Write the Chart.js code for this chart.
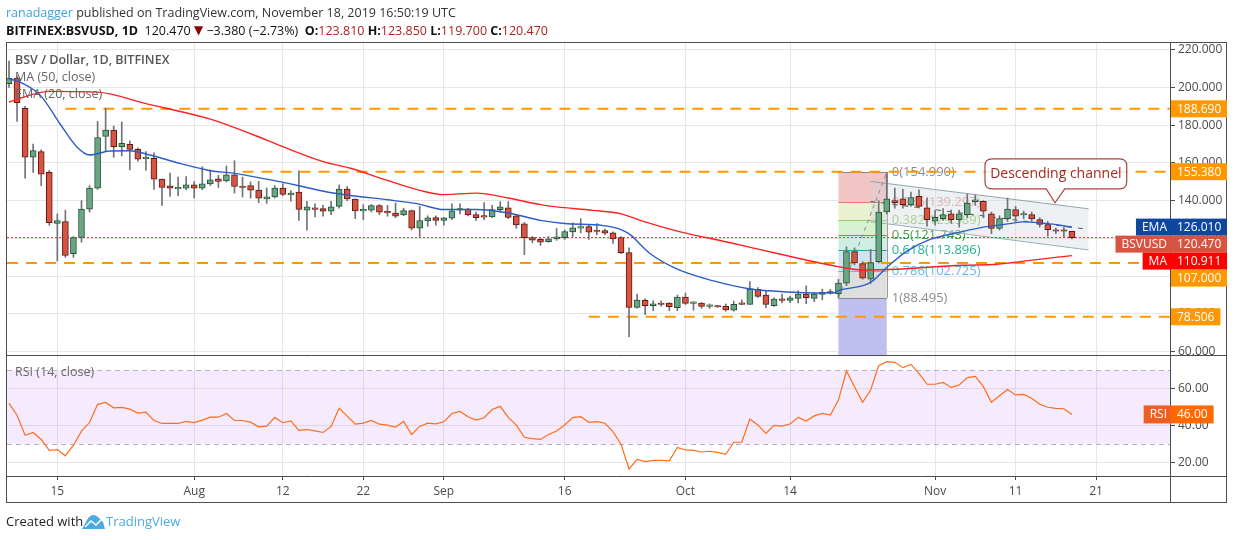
<!DOCTYPE html>
<html>
<head>
<meta charset="utf-8">
<script src="https://cdn.jsdelivr.net/npm/chart.js@4.4.1/dist/chart.umd.min.js"></script>
<style>
  html, body { margin: 0; padding: 0; background: #fff; }
  canvas { display: block; }
</style>
</head>
<body>
<canvas id="chart" width="1234" height="540"></canvas>
<script>
// Daily candles, BSV / USD (Bitfinex), 9 Jul 2019 -> 18 Nov 2019 (index 0 = 9 Jul)
const opens = [
  202, 205, 189, 163, 166, 155, 128, 129, 112, 120.5, 135.5, 146.7, 174, 177.4, 168.6, 169.8, 167.2, 162.3, 162.5, 151.4,
  147.9, 146.3, 146.7, 148.4, 146.7, 148.9, 151.6, 150.5, 153.7, 147.4, 148, 145.6, 141, 142, 146.7, 143, 144.6, 135, 136.2, 135.8,
  134.4, 137, 146.2, 140.9, 134.6, 135, 137.4, 134.4, 133.5, 132.5, 134.7, 125.5, 129.3, 131, 129.6, 130.7, 135, 135.6, 132.6, 131.5,
  131.4, 135.3, 136.2, 132, 127.7, 120.5, 119.5, 118.3, 119.8, 120.4, 123.5, 125.5, 126.3, 124.4, 124.2, 123, 120.5, 112.5, 83.5, 87.2,
  84.4, 85.8, 85.8, 83.3, 88.9, 85.6, 85.8, 84, 84.2, 84, 82, 85.8, 85.1, 93, 90, 84.4, 87.9, 87.2, 88.2, 90.5,
  88.2, 90.4, 91.6, 90.7, 96.3, 113, 106.7, 98.4, 107.7, 134, 140, 141, 137.9, 142.3, 136.2, 129.1, 130.5, 133, 130, 132.6,
  139.5, 139.7, 133, 125.3, 130.5, 135.3, 132.4, 132.6, 130, 127.4, 124.6, 123.9, 123.81
];
const highs = [
  214, 206, 190, 170, 167, 156, 133, 135, 121, 140, 148, 182, 189, 179.5, 181.7, 171.7, 168, 166, 165.4, 151.5,
  154.6, 152.5, 152.8, 150.2, 158, 156.3, 153.4, 158.4, 161.2, 152.5, 150, 150.2, 146.7, 148, 149, 145.3, 155.8, 139.7, 138.4, 137.6,
  139.7, 148.4, 147.5, 141, 137.9, 138, 138, 137.5, 138.8, 136, 135, 137, 132, 132, 131, 138.3, 138.3, 136, 134, 139,
  137.5, 139.5, 139.5, 132.5, 128.5, 121, 120, 121, 125.3, 124.5, 128.3, 130.5, 127, 127.9, 125, 123.5, 121, 115, 90.5, 88,
  87, 87, 86, 90, 91, 86.5, 86, 85.3, 84.5, 85.3, 86.8, 87.5, 97.2, 94, 92.3, 88.5, 90.5, 89.5, 92.3, 94.9,
  91.5, 93.2, 93, 98.4, 115.6, 115, 107.7, 114.2, 140, 155, 146.7, 146, 144.6, 145.8, 141.4, 135, 135.8, 135, 135, 143.5,
  143, 140, 134, 132, 141.4, 137, 134.5, 134, 131, 129, 125.5, 126, 123.85
];
const lows = [
  200, 182, 152, 155, 148, 127, 108, 110, 110, 118, 134, 146, 166, 163, 163.7, 156.3, 161, 156, 146, 137.5,
  142.3, 142.6, 145.8, 141.4, 145.8, 148, 147, 150, 144, 142, 141.4, 139, 138.6, 141.4, 142.6, 139.7, 129.6, 124.4, 131.4, 131.8,
  132.6, 136, 140, 130.5, 130, 134, 132.6, 131.8, 131, 132, 124.5, 121, 126.5, 127, 127, 130, 133, 132, 129.6, 130,
  131, 134, 130.5, 125.4, 111.4, 117.7, 116.3, 118, 119, 119.5, 121, 123, 119.5, 122, 122, 117.4, 112, 68, 83, 79.6,
  81.7, 84, 81.7, 81.7, 85, 82, 83, 83, 83.5, 81.4, 81.5, 85, 85, 88.8, 83.3, 84, 85.8, 86, 85.8, 85.4,
  86.5, 87.5, 90.5, 88.495, 95, 106, 98.4, 96.2, 107, 133, 136, 136, 137, 136.2, 126.5, 127, 129.5, 128, 126, 131,
  137.5, 131, 122.5, 124.5, 129, 129, 130.5, 129, 126, 121.2, 122.5, 121, 119.7
];
const closes = [
  205, 192, 163, 166.5, 154, 128.3, 129.5, 111, 120.5, 135.6, 146.7, 173.5, 177.4, 168.6, 170.4, 167.2, 162, 163, 151.4, 147,
  146.7, 147, 148.4, 146.7, 148.9, 151, 150.2, 153.7, 147.5, 147, 145.6, 141.4, 142, 146.7, 143.3, 144, 135.4, 136.7, 135.4, 134.4,
  136.7, 146.2, 140.9, 134.6, 135.3, 137.4, 133.9, 133.5, 131.8, 134.7, 125.4, 129.5, 130.9, 129.6, 130.9, 134.6, 135.6, 132.5, 131, 131.3,
  135.3, 136.7, 131.2, 127.2, 120.4, 119.1, 118, 119.8, 120.9, 123.7, 125.6, 126.3, 123.3, 123.7, 122.8, 119.8, 112.5, 83.5, 87.4, 84.4,
  85.3, 85, 83.8, 88.9, 85.6, 86.2, 84, 84.4, 83.7, 82.1, 85.1, 85.1, 93.2, 89.3, 85.1, 87.9, 87.2, 88.6, 90.5, 88.6,
  90.5, 91.4, 91.1, 96.3, 113, 107, 99, 107.2, 134, 141, 139, 137.9, 141.7, 137, 130, 131.2, 132.6, 130, 133, 138.8,
  140.5, 134.4, 125.3, 130.5, 135.6, 131.8, 132.8, 130.4, 127.4, 124.7, 123.8, 123.81, 120.47
];

// RSI (14, close), one value per candle
const rsiValues = [
  52, 45.6, 34.7, 36.2, 32.4, 26.5, 26.9, 23.5, 29.3, 36.9, 41.6, 51.5, 52.5, 49.6, 49.8, 48.9, 46.7, 47.3, 42.7, 41.1,
  41.1, 41.1, 42.2, 41.6, 42.9, 44.5, 44.5, 46.5, 42.7, 42.7, 41.8, 39.3, 39.6, 44.4, 41.5, 42.5, 37.3, 37.8, 37.1, 36.2,
  39.5, 49.3, 45.1, 40.7, 41.3, 42.7, 40.7, 40.2, 39.1, 42.2, 35.1, 39.5, 41.3, 40.9, 42, 46.5, 47.6, 44.7, 42.9, 44.2,
  48.7, 50.4, 44.4, 40.2, 33.6, 32.9, 32.4, 35.1, 37, 40.3, 44.3, 44.8, 41.7, 42.1, 41.2, 36.7, 29.8, 16.4, 21.6, 20.4,
  21, 21, 20.8, 28.1, 26.7, 26.5, 25.6, 26, 25.4, 24.3, 30.9, 31, 43.5, 40.3, 35.7, 40.1, 39.7, 40.8, 44.4, 42.4,
  45.2, 46.6, 45.7, 53.8, 69.6, 61.1, 52.6, 59.3, 72.5, 74.7, 74.3, 71.4, 73.2, 68.3, 62.4, 62.4, 63.4, 60.7, 62, 66,
  66.7, 61.1, 52.6, 56.2, 59.6, 56.6, 56.9, 54.8, 51.5, 49.9, 49.3, 49.1, 46
];

// EMA (20) and MA (50) as [day, value]
const emaPoints = [
  [0, 204.6], [1.4, 202.8], [3.9, 195.8], [6.3, 180.9], [8.4, 168.6], [10, 164.2], [12.5, 166.3], [15, 166.5],
  [17.5, 164.2], [21.2, 159.8], [25, 155.9], [27.8, 154.6], [32, 151.4], [36, 147.9], [39.5, 144.6], [42.7, 142.6],
  [47, 140.5], [50.8, 138.3], [54, 135.3], [58, 135.3], [62, 133.5], [66, 129.6], [69, 127.9], [73.8, 126.8],
  [76, 124.7], [77.3, 121.5], [78.4, 116.8], [79.6, 112], [83, 103.7], [87.5, 97.5], [91.7, 93.5], [97.9, 91.4],
  [102.4, 91.1], [103, 92.3], [107, 96.7], [109, 104.6], [111.5, 113.3], [114.4, 119.5], [117.8, 123], [121, 126],
  [124, 127.7], [126, 128.8], [129.3, 127.7], [132, 126.01]
];
const maPoints = [
  [0, 192.3], [5, 197.9], [11, 197.5], [17, 191.4], [25, 183.2], [32, 172.1], [34, 168.6], [39, 160.7],
  [42.4, 157.2], [46.5, 151.4], [51, 145.5], [54, 143.2], [58, 144], [62, 141.4], [66, 137.9], [68, 136.7],
  [72.5, 134.9], [76, 133], [78.4, 129.6], [83, 123.9], [89.6, 117.7], [95.8, 111.6], [102.9, 105.1], [106, 103.3],
  [110.3, 103.7], [114.4, 104.9], [118.5, 105.8], [122.7, 106.3], [126.8, 108.4], [132, 110.911]
];

// Axis ticks
const tickDays = [6, 23, 34, 44, 54, 69, 84, 97, 115, 125, 135];
const tickLabels = ['15', 'Aug', '12', '22', 'Sep', '16', 'Oct', '14', 'Nov', '11', '21'];
const priceTicks = [60, 80, 100, 120, 140, 160, 180, 200, 220];
const rsiTicks = [20, 40, 60];

// Drawings: horizontal levels and where they start
const hLevels = [188.69, 155.38, 107.0, 78.506];
const hLevelStart = [7, 29, -0.25, 72];

// Fibonacci retracement between day 103 (low) and day 109 (high)
const fibRatios = ['0', '0.236', '0.382', '0.5', '0.618', '0.786', '1'];
const fibLevels = [154.990, 139.297, 129.589, 121.743, 113.896, 102.725, 88.495];
const fibExtension = 47.40;
const fibDays = [103, 109];

// Descending channel
const channelDays = [107, 134.07];
const channelTop = [150.2, 135.7];
const channelBottom = [128.9, 113.9];
const channelMid = [139.6, 124.8];

const lastPrice = 120.47;
const lastEma = 126.01;
const lastMa = 110.911;
const lastRsi = 46.0;

// ----- styling -----
const FONT = "'Open Sans', 'DejaVu Sans', sans-serif";
Chart.defaults.font.family = FONT;
const upFill = '#6ba583', upLine = '#225437';
const downFill = '#d75442', downLine = '#5b1a13';
const wickColor = '#737375';
const orange = '#ff9800';
const gridColor = '#e6e6e6';
const frameColor = '#4d4d4d';
const xMin = -0.25, xMax = 144.3;

const days = closes.map((c, i) => i);
const isUp = (i) => closes[i] >= opens[i];

const datasets = [
  {
    type: 'line', label: 'EMA', data: emaPoints.map(p => ({ x: p[0], y: p[1] })),
    borderColor: '#2b5cc8', borderWidth: 1.4, pointRadius: 0, cubicInterpolationMode: 'monotone',
    yAxisID: 'y', order: 0
  },
  {
    type: 'line', label: 'MA', data: maPoints.map(p => ({ x: p[0], y: p[1] })),
    borderColor: '#ff2020', borderWidth: 1.4, pointRadius: 0, cubicInterpolationMode: 'monotone',
    yAxisID: 'y', order: 0
  },
  {
    type: 'bar', label: 'body', data: days.map(i => ({ x: i, y: [opens[i], closes[i]] })),
    grouped: false, barThickness: 6, minBarLength: 1.5, borderWidth: 1, borderSkipped: false,
    backgroundColor: c => isUp(c.dataIndex) ? upFill : downFill,
    borderColor: c => isUp(c.dataIndex) ? upLine : downLine,
    yAxisID: 'y', order: 1
  },
  {
    type: 'bar', label: 'wick', data: days.map(i => ({ x: i, y: [lows[i], highs[i]] })),
    grouped: false, barThickness: 1, borderWidth: 0, backgroundColor: wickColor,
    yAxisID: 'y', order: 2
  },
  {
    type: 'line', label: 'last', data: [{ x: xMin, y: lastPrice }, { x: xMax, y: lastPrice }],
    borderColor: '#d93a3a', borderWidth: 1, borderDash: [2, 2], pointRadius: 0, yAxisID: 'y', order: 3
  },
  {
    type: 'line', label: 'channelTop',
    data: channelDays.map((d, i) => ({ x: d, y: channelTop[i] })),
    borderColor: '#8fa6ae', borderWidth: 1, pointRadius: 0, yAxisID: 'y', order: 5,
    fill: '+1', backgroundColor: 'rgba(205, 214, 224, 0.35)'
  },
  {
    type: 'line', label: 'channelBottom',
    data: channelDays.map((d, i) => ({ x: d, y: channelBottom[i] })),
    borderColor: '#8fa6ae', borderWidth: 1, pointRadius: 0, yAxisID: 'y', order: 5
  },
  {
    type: 'line', label: 'channelMid',
    data: channelDays.map((d, i) => ({ x: d, y: channelMid[i] })),
    borderColor: '#555', borderWidth: 1, borderDash: [5, 6], pointRadius: 0, yAxisID: 'y', order: 4
  },
  {
    type: 'line', label: 'fibTrend',
    data: [{ x: fibDays[0], y: fibLevels[6] }, { x: fibDays[1], y: fibLevels[0] }],
    borderColor: '#8a8a8a', borderWidth: 1, borderDash: [4, 4], pointRadius: 0, yAxisID: 'y', order: 4
  },
  {
    type: 'line', label: 'RSI', data: rsiValues.map((v, i) => ({ x: i, y: v })),
    borderColor: '#ff6d1a', borderWidth: 1.2, pointRadius: 0, yAxisID: 'rsi', order: 0
  }
];

hLevels.forEach((lvl, i) => {
  datasets.push({
    type: 'line', label: 'level ' + lvl,
    data: [{ x: hLevelStart[i], y: lvl }, { x: xMax, y: lvl }],
    borderColor: orange, borderWidth: 2, borderDash: [11, 8], pointRadius: 0, yAxisID: 'y', order: 4
  });
});

// Fib zones, RSI band
const fibZoneColors = ['#f3c4c4', '#e9f1d0', '#d4f2cf', '#cdeee3', '#cfe3f1', '#dedede', '#bfbff0'];
const fibLineColors = ['#8a8a8a', '#e57373', '#9ccc65', '#4caf50', '#26a69a', '#64b5f6', '#8a8a8a'];
const fibTextColors = ['#8c8c8c', '#e3a0a0', '#9ccc65', '#43a047', '#26b08f', '#64b5f6', '#8c8c8c'];

const backgroundPlugin = {
  id: 'background',
  beforeDatasetsDraw(chart) {
    const { ctx, scales } = chart;
    const x = scales.x, y = scales.y, r = scales.rsi;
    const x0 = x.getPixelForValue(fibDays[0]), x1 = x.getPixelForValue(fibDays[1]);
    const levels = fibLevels.concat([fibExtension]);
    ctx.save();
    ctx.beginPath();
    ctx.rect(chart.chartArea.left, y.top, chart.chartArea.right - chart.chartArea.left, y.bottom - y.top);
    ctx.clip();
    for (let i = 0; i < levels.length - 1; i++) {
      const ya = y.getPixelForValue(levels[i]), yb = y.getPixelForValue(levels[i + 1]);
      ctx.fillStyle = fibZoneColors[i];
      ctx.fillRect(x0, ya, x1 - x0, yb - ya);
    }
    fibLevels.forEach((lvl, i) => {
      const py = Math.round(y.getPixelForValue(lvl)) + 0.5;
      ctx.strokeStyle = fibLineColors[i];
      ctx.lineWidth = 1;
      ctx.beginPath(); ctx.moveTo(x0, py); ctx.lineTo(x1, py); ctx.stroke();
      ctx.font = '13px ' + FONT;
      ctx.fillStyle = fibTextColors[i];
      ctx.textBaseline = 'middle';
      ctx.textAlign = 'left';
      ctx.fillText(fibRatios[i] + '(' + lvl.toFixed(3) + ')', x1 + 5, py);
    });
    ctx.strokeStyle = '#9a9a9a';
    ctx.beginPath();
    ctx.moveTo(Math.round(x1) + 0.5, y.getPixelForValue(fibLevels[0]));
    ctx.lineTo(Math.round(x1) + 0.5, y.getPixelForValue(fibLevels[6]));
    ctx.stroke();
    ctx.restore();

    // RSI band 70 / 30
    const l = chart.chartArea.left, rr = chart.chartArea.right;
    const y70 = r.getPixelForValue(70), y30 = r.getPixelForValue(30);
    ctx.save();
    ctx.fillStyle = 'rgba(175, 90, 235, 0.12)';
    ctx.fillRect(l, y70, rr - l, y30 - y70);
    ctx.strokeStyle = '#b9aec9';
    ctx.setLineDash([5, 4]);
    ctx.lineWidth = 1;
    [y70, y30].forEach(py => {
      ctx.beginPath(); ctx.moveTo(l, Math.round(py) + 0.5); ctx.lineTo(rr, Math.round(py) + 0.5); ctx.stroke();
    });
    ctx.restore();
  }
};

function drawRuns(ctx, runs, x, y) {
  for (const run of runs) {
    ctx.font = run.font;
    ctx.fillStyle = run.color;
    ctx.fillText(run.text, x, y);
    x += ctx.measureText(run.text).width;
  }
}

function drawBadge(ctx, left, top, h, text, bg, tag, tagBg) {
  ctx.font = '12px ' + FONT;
  const w = ctx.measureText(text).width + 12;
  ctx.fillStyle = bg;
  ctx.fillRect(left, top, Math.min(w, 1227 - left), h);
  ctx.fillStyle = '#fff';
  ctx.textBaseline = 'middle';
  ctx.textAlign = 'left';
  ctx.fillText(text, left + 6, top + h / 2 + 0.5);
  if (tag) {
    const tw = ctx.measureText(tag).width + 10;
    ctx.fillStyle = tagBg;
    ctx.fillRect(left - tw, top, tw, h);
    ctx.fillStyle = '#fff';
    ctx.textAlign = 'right';
    ctx.fillText(tag, left - 4, top + h / 2 + 0.5);
  }
}

const overlayPlugin = {
  id: 'overlay',
  afterDraw(chart) {
    const { ctx, scales, chartArea } = chart;
    const x = scales.x, y = scales.y, r = scales.rsi;
    ctx.save();

    // callout
    const bl = x.getPixelForValue(121.2), br = x.getPixelForValue(138.8);
    const bt = y.getPixelForValue(162.2), bb = y.getPixelForValue(146.3);
    const tipX = x.getPixelForValue(129.9), tipY = y.getPixelForValue(138.9);
    const pl = x.getPixelForValue(128.8), pr = x.getPixelForValue(131.1);
    const rad = 7;
    ctx.beginPath();
    ctx.moveTo(bl + rad, bt);
    ctx.lineTo(br - rad, bt); ctx.quadraticCurveTo(br, bt, br, bt + rad);
    ctx.lineTo(br, bb - rad); ctx.quadraticCurveTo(br, bb, br - rad, bb);
    ctx.lineTo(pr, bb); ctx.lineTo(tipX, tipY); ctx.lineTo(pl, bb);
    ctx.lineTo(bl + rad, bb); ctx.quadraticCurveTo(bl, bb, bl, bb - rad);
    ctx.lineTo(bl, bt + rad); ctx.quadraticCurveTo(bl, bt, bl + rad, bt);
    ctx.closePath();
    ctx.fillStyle = 'rgba(255,255,255,0.82)';
    ctx.fill();
    ctx.strokeStyle = '#a94444';
    ctx.lineWidth = 1.2;
    ctx.stroke();
    ctx.fillStyle = '#a52a2a';
    ctx.font = '14px ' + FONT;
    ctx.textAlign = 'center';
    ctx.textBaseline = 'middle';
    ctx.fillText('Descending channel', (bl + br) / 2, (bt + bb) / 2);

    // pane legends
    ctx.textAlign = 'left';
    ctx.fillStyle = '#555';
    ctx.font = '600 12.5px ' + FONT;
    ctx.fillText('BSV / Dollar, 1D, BITFINEX', 15, 60);
    ctx.font = '12.5px ' + FONT;
    ctx.fillStyle = '#666';
    ctx.fillText('MA (50, close)', 15, 77);
    ctx.fillText('EMA (20, close)', 15, 94);
    ctx.fillText('RSI (14, close)', 15, 372);

    // frame
    ctx.strokeStyle = frameColor;
    ctx.lineWidth = 1;
    ctx.strokeRect(6.5, 42.5, 1220, 460);
    const sx = Math.round(chartArea.right) - 0.5;
    ctx.beginPath();
    ctx.moveTo(sx, 42.5); ctx.lineTo(sx, 502.5);
    ctx.moveTo(6.5, Math.round(y.bottom) + 0.5); ctx.lineTo(1226.5, Math.round(y.bottom) + 0.5);
    ctx.moveTo(6.5, Math.round(chartArea.bottom) + 0.5); ctx.lineTo(1226.5, Math.round(chartArea.bottom) + 0.5);
    ctx.stroke();

    // price badges on the axis
    const h = 17;
    const badges = [
      { v: hLevels[0], text: hLevels[0].toFixed(3), bg: orange },
      { v: hLevels[1], text: hLevels[1].toFixed(3), bg: orange },
      { v: lastEma, text: lastEma.toFixed(3), bg: '#0f47a0', tag: 'EMA' },
      { v: lastPrice, text: lastPrice.toFixed(3), bg: '#d75442', tag: 'BSVUSD' },
      { v: lastMa, text: lastMa.toFixed(3), bg: '#ff0000', tag: 'MA' },
      { v: hLevels[2], text: hLevels[2].toFixed(3), bg: orange },
      { v: hLevels[3], text: hLevels[3].toFixed(3), bg: orange }
    ];
    let prevBottom = -Infinity;
    const left = Math.round(chartArea.right);
    for (const b of badges) {
      let top = y.getPixelForValue(b.v) - h / 2;
      if (top < prevBottom) top = prevBottom;
      drawBadge(ctx, left, top, h, b.text, b.bg, b.tag, b.bg);
      prevBottom = top + h;
    }
    drawBadge(ctx, left, r.getPixelForValue(lastRsi) - 9, 18, lastRsi.toFixed(2), '#ff6a00', 'RSI', '#f05e22');

    // header
    ctx.textAlign = 'left';
    ctx.textBaseline = 'middle';
    const reg = '12.5px ' + FONT, bold = 'bold 12.5px ' + FONT;
    drawRuns(ctx, [
      { text: 'ranadagger', color: '#3ca3e0', font: reg },
      { text: ' published on TradingView.com, November 18, 2019 16:50:19 UTC', color: '#333', font: reg }
    ], 6, 13);
    const red = '#b01e1e';
    drawRuns(ctx, [
      { text: 'BITFINEX:BSVUSD, 1D', color: '#111', font: bold },
      { text: '  120.470 ', color: '#111', font: reg },
      { text: '\u25BC', color: '#8b0000', font: '12px ' + FONT },
      { text: ' \u22123.380 (\u22122.73%)  ', color: '#111', font: reg },
      { text: 'O:', color: '#111', font: bold },
      { text: '123.810 ', color: red, font: reg },
      { text: 'H:', color: '#111', font: bold },
      { text: '123.850 ', color: red, font: reg },
      { text: 'L:', color: '#111', font: bold },
      { text: '119.700 ', color: red, font: reg },
      { text: 'C:', color: '#111', font: bold },
      { text: '120.470', color: red, font: reg }
    ], 6, 31);

    // footer
    ctx.font = '13px ' + FONT;
    ctx.fillStyle = '#222';
    ctx.fillText('Created with', 6, 522);
    ctx.fillStyle = '#4aaae4';
    ctx.beginPath();
    ctx.moveTo(82, 529);
    ctx.lineTo(87, 520); ctx.quadraticCurveTo(92, 512, 98, 517);
    ctx.lineTo(103, 522); ctx.lineTo(105, 529);
    ctx.closePath();
    ctx.fill();
    ctx.strokeStyle = '#fff';
    ctx.lineWidth = 1.5;
    ctx.beginPath();
    ctx.moveTo(85, 527); ctx.lineTo(91, 521); ctx.lineTo(96, 525); ctx.lineTo(102, 519);
    ctx.stroke();
    ctx.fillStyle = '#4aaae4';
    ctx.fillText('TradingView', 106, 522);
    ctx.restore();
  }
};

const axisFont = { family: FONT, size: 12 };

new Chart(document.getElementById('chart'), {
  type: 'bar',
  data: { datasets },
  options: {
    responsive: false,
    animation: false,
    events: [],
    layout: { padding: { left: 7, top: 43, right: 7, bottom: 37 } },
    plugins: { legend: { display: false }, tooltip: { enabled: false } },
    scales: {
      x: {
        type: 'linear', min: xMin, max: xMax, offset: false,
        grid: { color: gridColor, offset: false, tickLength: 4, tickColor: frameColor },
        border: { display: false },
        ticks: {
          autoSkip: false, maxRotation: 0, padding: 4, color: '#4a4a4a', font: axisFont,
          callback: v => { const k = tickDays.indexOf(v); return k >= 0 ? tickLabels[k] : ''; }
        },
        afterBuildTicks: s => { s.ticks = tickDays.map(v => ({ value: v })); },
        afterFit: s => { s.height = 27; }
      },
      y: {
        type: 'linear', axis: 'y', position: 'right', stack: 'pane', stackWeight: 312,
        min: 58.25, max: 223.55,
        grid: { color: gridColor, tickLength: 4, tickColor: frameColor },
        border: { display: false },
        ticks: { padding: 3, color: '#4a4a4a', font: axisFont, callback: v => v.toFixed(3) },
        afterBuildTicks: s => { s.ticks = priceTicks.map(v => ({ value: v })); },
        afterFit: s => { s.width = 56; }
      },
      rsi: {
        type: 'linear', axis: 'y', position: 'right', stack: 'pane', stackWeight: 121,
        min: 12.55, max: 78.3,
        grid: { color: gridColor, tickLength: 4, tickColor: frameColor },
        border: { display: false },
        ticks: { padding: 3, color: '#4a4a4a', font: axisFont, callback: v => v.toFixed(2) },
        afterBuildTicks: s => { s.ticks = rsiTicks.map(v => ({ value: v })); },
        afterFit: s => { s.width = 56; }
      }
    }
  },
  plugins: [backgroundPlugin, overlayPlugin]
});
</script>
</body>
</html>
